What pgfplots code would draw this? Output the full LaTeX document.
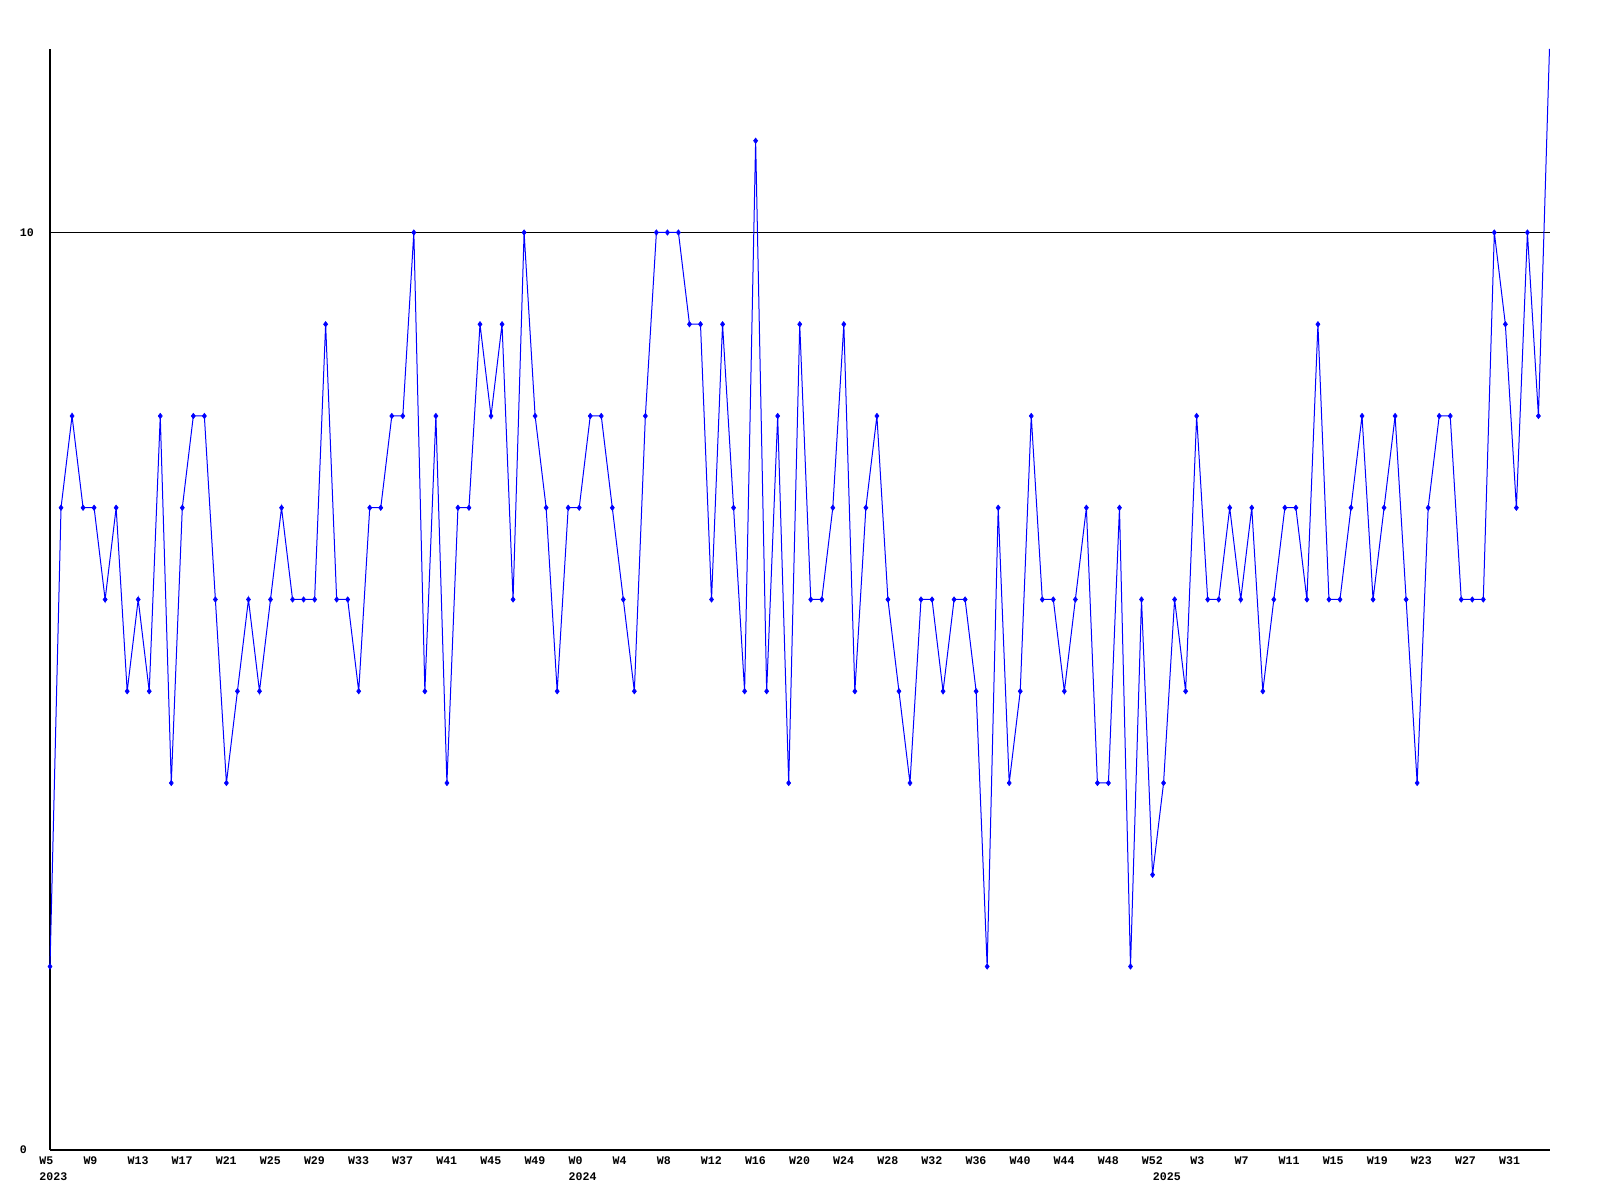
\documentclass[border=0pt]{standalone}
\usepackage{fontspec}
\usepackage{pgfplots}
\pgfplotsset{compat=1.18}
\newfontfamily\lblfont{Liberation Mono}
\newcommand\lbl{\lblfont\bfseries\fontsize{5.8bp}{7.75bp}\selectfont}
\definecolor{lineblue}{RGB}{0,0,255}
\begin{document}
\begin{tikzpicture}
\useasboundingbox (0,0) rectangle (800bp,600bp);
\begin{axis}[
  at={(25bp,25bp)}, anchor=south west,
  scale only axis, width=750bp, height=550.5bp,
  xmin=0, xmax=136.05, ymin=0, ymax=12,
  axis x line=bottom, axis y line=left,
  axis line style={-, black, line width=0.6bp},
  major tick length=0pt,
  ytick={0,10}, yticklabels={0,10},
  ymajorgrids, grid style={black, line width=0.5bp},
  xtick={0,4,8,12,16,20,24,28,32,36,40,44,48,52,56,60,64,68,72,76,80,84,88,92,96,100,104.4,108.4,112.4,116.4,120.4,124.4,128.4,132.4},
  xticklabels={{W5\\2023},W9,W13,W17,W21,W25,W29,W33,W37,W41,W45,W49,{W0\\2024},W4,W8,W12,W16,W20,W24,W28,W32,W36,W40,W44,W48,W52,W3,W7,W11,W15,W19,W23,W27,W31},
  extra x ticks={101}, extra x tick labels={{\phantom{W5}\\2025}},
  xticklabel style={font=\lbl, align=left, anchor=north west, inner sep=0pt, xshift=-5.5bp, yshift=-3.25bp},
  yticklabel style={font=\lbl, anchor=west, inner sep=0pt, xshift=-15.3bp},
  clip=false,
]
\addplot[lineblue, line width=0.5bp, mark=diamond*, mark size=1.35bp, mark indices={1,...,136}, mark options={line width=0.3bp}] coordinates {
(0,2)(1,7)(2,8)(3,7)(4,7)(5,6)(6,7)(7,5)(8,6)(9,5)
(10,8)(11,4)(12,7)(13,8)(14,8)(15,6)(16,4)(17,5)(18,6)(19,5)
(20,6)(21,7)(22,6)(23,6)(24,6)(25,9)(26,6)(27,6)(28,5)(29,7)
(30,7)(31,8)(32,8)(33,10)(34,5)(35,8)(36,4)(37,7)(38,7)(39,9)
(40,8)(41,9)(42,6)(43,10)(44,8)(45,7)(46,5)(47,7)(48,7)(49,8)
(50,8)(51,7)(52,6)(53,5)(54,8)(55,10)(56,10)(57,10)(58,9)(59,9)
(60,6)(61,9)(62,7)(63,5)(64,11)(65,5)(66,8)(67,4)(68,9)(69,6)
(70,6)(71,7)(72,9)(73,5)(74,7)(75,8)(76,6)(77,5)(78,4)(79,6)
(80,6)(81,5)(82,6)(83,6)(84,5)(85,2)(86,7)(87,4)(88,5)(89,8)
(90,6)(91,6)(92,5)(93,6)(94,7)(95,4)(96,4)(97,7)(98,2)(99,6)
(100,3)(101,4)(102,6)(103,5)(104,8)(105,6)(106,6)(107,7)(108,6)(109,7)
(110,5)(111,6)(112,7)(113,7)(114,6)(115,9)(116,6)(117,6)(118,7)(119,8)
(120,6)(121,7)(122,8)(123,6)(124,4)(125,7)(126,8)(127,8)(128,6)(129,6)
(130,6)(131,10)(132,9)(133,7)(134,10)(135,8)(136,12)
};
\end{axis}
\end{tikzpicture}
\end{document}
